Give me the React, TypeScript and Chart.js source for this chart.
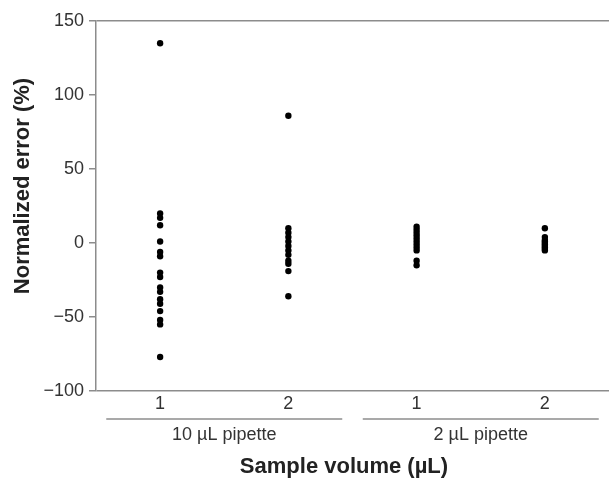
import React, { useEffect, useRef } from "react";
import { Chart, registerables } from "chart.js";

Chart.register(...registerables);

// Data
const categories = ["1", "2", "1", "2"];
const groups = ["10 µL pipette", "2 µL pipette"];
const pip10Vol1 = [135, 20, 17, 12, 1, -6, -9, -20, -23, -30, -33, -38, -41, -46, -52, -55, -77];
const pip10Vol2 = [86, 10, 7, 4, 1, -2, -5, -8, -12, -14, -19, -36];
const pip2Vol1 = [11, 9, 7, 5, 3, 1, -1, -3, -5, -12, -15];
const pip2Vol2 = [10, 4, 2, 1, 0, -1, -2, -3, -4, -5];
const yTicks = [-100, -50, 0, 50, 100, 150];
const xTitle = "Sample volume (µL)";
const yTitle = "Normalized error (%)";

const FONT = "'Liberation Sans', Arial, Helvetica, sans-serif";
const AXIS_GRAY = "#8c8c8c";
const TEXT = "#333333";

export default function App() {
  const ref = useRef<HTMLCanvasElement | null>(null);

  useEffect(() => {
    if (!ref.current) return;
    const series = [pip10Vol1, pip10Vol2, pip2Vol1, pip2Vol2];
    const points = series.flatMap((vals, i) => vals.map((v) => ({ x: i + 1, y: v })));

    const decor = {
      id: "decor",
      afterDraw(chart: any) {
        const ctx = chart.ctx;
        const xs = chart.scales.x;
        ctx.save();
        // group lines
        ctx.strokeStyle = AXIS_GRAY;
        ctx.lineWidth = 1.5;
        const gy = 419;
        groups.forEach((g, gi) => {
          const c = 1.5 + gi * 2;
          const x0 = xs.getPixelForValue(c - 0.92);
          const x1 = xs.getPixelForValue(c + 0.92);
          ctx.beginPath();
          ctx.moveTo(x0, gy);
          ctx.lineTo(x1, gy);
          ctx.stroke();
          ctx.fillStyle = TEXT;
          ctx.font = `18px ${FONT}`;
          ctx.textAlign = "center";
          ctx.textBaseline = "middle";
          ctx.fillText(g, xs.getPixelForValue(c), 435);
        });
        // axis titles
        ctx.fillStyle = "#222";
        ctx.font = `bold 22px ${FONT}`;
        ctx.textAlign = "center";
        ctx.textBaseline = "middle";
        ctx.fillText(xTitle, 344, 467);
        ctx.translate(23, 186);
        ctx.rotate(-Math.PI / 2);
        ctx.fillText(yTitle, 0, 0);
        ctx.restore();
      },
    };

    const chart = new Chart(ref.current, {
      type: "scatter",
      data: {
        datasets: [
          {
            data: points,
            backgroundColor: "#000",
            borderWidth: 0,
            pointRadius: 3.2,
            pointHoverRadius: 3.2,
          },
        ],
      },
      options: {
        animation: false,
        responsive: false,
        events: [],
        layout: { autoPadding: false, padding: { top: 21, left: 0, right: 0, bottom: 0 } },
        plugins: { legend: { display: false }, tooltip: { enabled: false } },
        scales: {
          x: {
            type: "linear",
            min: 0.5,
            max: 4.5,
            afterFit(scale: any) {
              scale.height = 92;
            },
            afterBuildTicks(scale: any) {
              scale.ticks = categories.map((_, i) => ({ value: i + 1 }));
            },
            ticks: {
              callback: (v: any) => categories[Number(v) - 1] ?? "",
              font: { family: FONT, size: 18 },
              color: TEXT,
              padding: 2,
              maxRotation: 0,
            },
            grid: { display: false, drawTicks: false },
            border: { display: false },
          },
          y: {
            min: -100,
            max: 150,
            afterFit(scale: any) {
              scale.width = 96;
            },
            afterBuildTicks(scale: any) {
              scale.ticks = yTicks.map((v) => ({ value: v }));
            },
            ticks: {
              font: { family: FONT, size: 18 },
              color: TEXT,
              padding: 5,
              callback: (v: any) => String(v).replace("-", "\u2212"),
            },
            grid: {
              color: (c: any) =>
                c.tick && (c.tick.value === 150 || c.tick.value === -100) ? AXIS_GRAY : "rgba(0,0,0,0)",
              tickColor: AXIS_GRAY,
              tickLength: 7,
              lineWidth: 1.5,
            },
            border: { display: true, color: AXIS_GRAY, width: 1.5 },
          },
        },
      },
      plugins: [decor],
    });
    return () => chart.destroy();
  }, []);

  return (
    <div style={{ position: "fixed", left: 0, top: 0, width: 609, height: 483, background: "#fff" }}>
      <canvas ref={ref} width={609} height={483} style={{ display: "block" }} />
    </div>
  );
}
